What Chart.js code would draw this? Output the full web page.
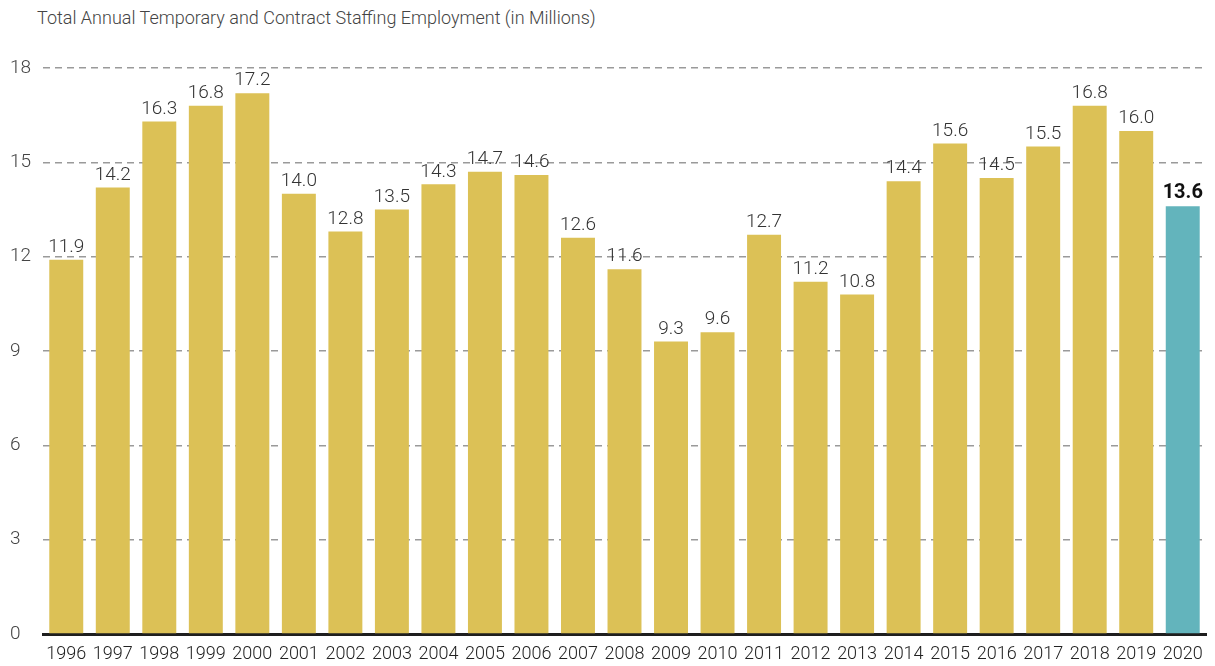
<!DOCTYPE html>
<html>
<head>
<meta charset="utf-8">
<script src="https://cdn.jsdelivr.net/npm/chart.js@4.4.0/dist/chart.umd.min.js"></script>
<style>
  body { margin: 0; background: #fff; }
  #wrap { position: relative; width: 1215px; height: 666px; }
  #title {
    position: absolute; left: 37px; top: 7px;
    font-family: "Roboto", sans-serif;
    font-size: 18px; color: #444; font-weight: 300;
  }
  canvas { position: absolute; left: 0; top: 0; }
</style>
</head>
<body>
<div id="wrap">
  <div id="title">Total Annual Temporary and Contract Staffing Employment (in Millions)</div>
  <canvas id="staffChart" width="1215" height="666"></canvas>
</div>
<script>
const years = ['1996', '1997', '1998', '1999', '2000', '2001', '2002', '2003', '2004', '2005', '2006', '2007', '2008',
  '2009', '2010', '2011', '2012', '2013', '2014', '2015', '2016', '2017', '2018', '2019', '2020'];
const employment = [11.9, 14.2, 16.3, 16.8, 17.2, 14.0, 12.8, 13.5, 14.3, 14.7, 14.6, 12.6, 11.6,
  9.3, 9.6, 12.7, 11.2, 10.8, 14.4, 15.6, 14.5, 15.5, 16.8, 16.0, 13.6];
const yTicks = [0, 3, 6, 9, 12, 15, 18];

const fontName = '"Roboto", sans-serif';
const gold = '#dcc156';
const teal = '#63b4bc';
const lastIdx = years.length - 1;

// value labels above each bar
const barLabels = {
  id: 'barLabels',
  afterDatasetsDraw(chart) {
    const c = chart.ctx;
    const meta = chart.getDatasetMeta(0);
    c.save();
    c.textAlign = 'center';
    c.textBaseline = 'bottom';
    meta.data.forEach((bar, i) => {
      if (i === lastIdx) {
        c.font = 'bold 20px ' + fontName;
        c.fillStyle = '#111';
      } else {
        c.font = '300 19px ' + fontName;
        c.fillStyle = '#333';
      }
      c.fillText(employment[i].toFixed(1), bar.x, bar.y - 3);
    });
    c.restore();
  }
};

const ctx = document.getElementById('staffChart').getContext('2d');

const staffChart = new Chart(ctx, {
  type: 'bar',
  data: {
    labels: years,
    datasets: [{
      data: employment,
      backgroundColor: employment.map((v, i) => i === lastIdx ? teal : gold),
      barPercentage: 0.73,
      categoryPercentage: 1.0
    }]
  },
  options: {
    responsive: false,
    animation: false,
    layout: { padding: { left: 10, right: 9, top: 68, bottom: 0 } },
    scales: {
      x: {
        grid: { display: false, drawTicks: false },
        border: { display: true, color: '#1e1e1e', width: 3 },
        ticks: {
          color: '#222',
          font: { family: fontName, size: 18, weight: '300' },
          padding: 10,
          maxRotation: 0,
          autoSkip: false
        },
        afterFit(scale) { scale.height = 32; }
      },
      y: {
        min: 0,
        max: 18,
        afterBuildTicks(scale) { scale.ticks = yTicks.map(v => ({ value: v })); },
        grid: {
          drawTicks: false,
          color: (c) => c.tick && c.tick.value === 0 ? 'rgba(0,0,0,0)' : '#9a9a9a',
          lineWidth: 1.5
        },
        border: { display: false, dash: [7, 5] },
        ticks: {
          color: '#444',
          font: { family: fontName, size: 19, weight: '300' },
          crossAlign: 'far',
          padding: 0
        },
        afterFit(scale) { scale.width = 33; }
      }
    },
    plugins: {
      legend: { display: false },
      tooltip: { enabled: false }
    }
  },
  plugins: [barLabels]
});
</script>
</body>
</html>
